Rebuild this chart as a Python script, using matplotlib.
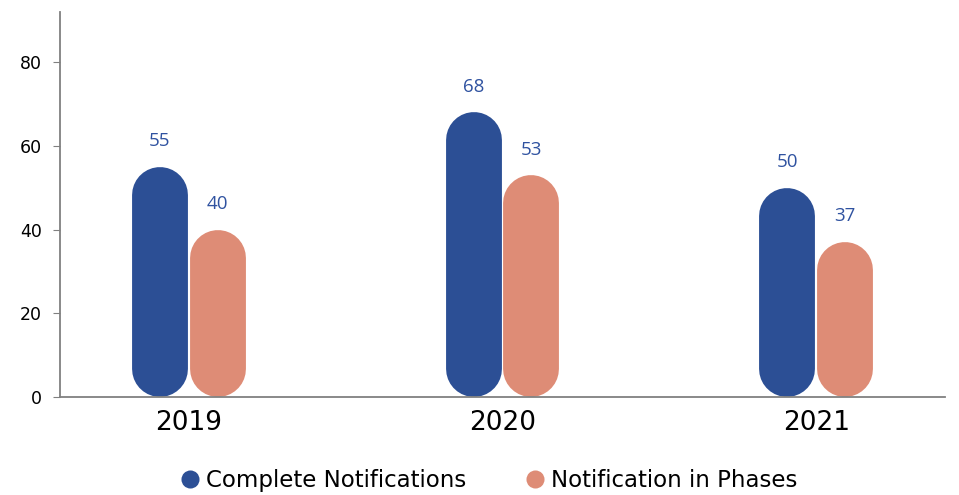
import matplotlib.pyplot as plt
from matplotlib.lines import Line2D
import numpy as np

years = ['2019', '2020', '2021']
complete = [55, 68, 50]
phases = [40, 53, 37]
series_names = ['Complete Notifications', 'Notification in Phases']
colors = ['#2c4f95', '#de8c76']
label_color = '#2f52a0'

fig = plt.figure(figsize=(9.59, 4.95), dpi=100)
ax = fig.add_axes([60 / 959, 98 / 495, 885 / 959, 385 / 495])

x = np.arange(len(years))
width = 0.178
gap = 0.0064
ax.set_xlim(-0.41, 2.41)
ax.set_ylim(0, 92)

# pixels per data unit, used to turn the bars into pills with round caps
fig.canvas.draw()
p0 = ax.transData.transform((0, 0))
p1 = ax.transData.transform((1, 1))
px_x = p1[0] - p0[0]
px_y = p1[1] - p0[1]

for i, vals in enumerate([complete, phases]):
    offset = (i - 0.5) * (width + gap)
    b = ax.bar(x + offset, vals, width, color=colors[i])
    for rect, v in zip(b.patches, vals):
        rect.set_visible(False)
        cx = rect.get_x() + width / 2
        w_px = width * px_x
        r = (w_px / 2) / px_y
        ax.plot([cx, cx], [r, v - r], color=colors[i],
                linewidth=w_px * 72 / fig.dpi, solid_capstyle='round')
        ax.annotate(str(v), (cx, v), xytext=(0, 12), textcoords='offset points',
                    ha='center', va='bottom', fontsize=13.5,
                    family='Open Sans', color=label_color)

for s in ['top', 'right']:
    ax.spines[s].set_visible(False)
for s in ['left', 'bottom']:
    ax.spines[s].set_color('#808080')
    ax.spines[s].set_linewidth(1.3)

ax.set_yticks([0, 20, 40, 60, 80])
ax.tick_params(axis='y', length=5, color='#808080', labelsize=12.5, pad=8)
ax.set_xticks(x)
ax.set_xticklabels(years, fontsize=19)
ax.tick_params(axis='x', length=0, pad=9)

handles = [Line2D([], [], marker='o', linestyle='none', markersize=13,
                  markerfacecolor=c, markeredgecolor='none') for c in colors]
fig.legend(handles, series_names, loc='center', bbox_to_anchor=(0.51, 0.03),
           ncol=2, frameon=False, fontsize=16.5, handlelength=0.8,
           handletextpad=0.3, columnspacing=2.6)

fig.savefig('out.png', dpi=100)
